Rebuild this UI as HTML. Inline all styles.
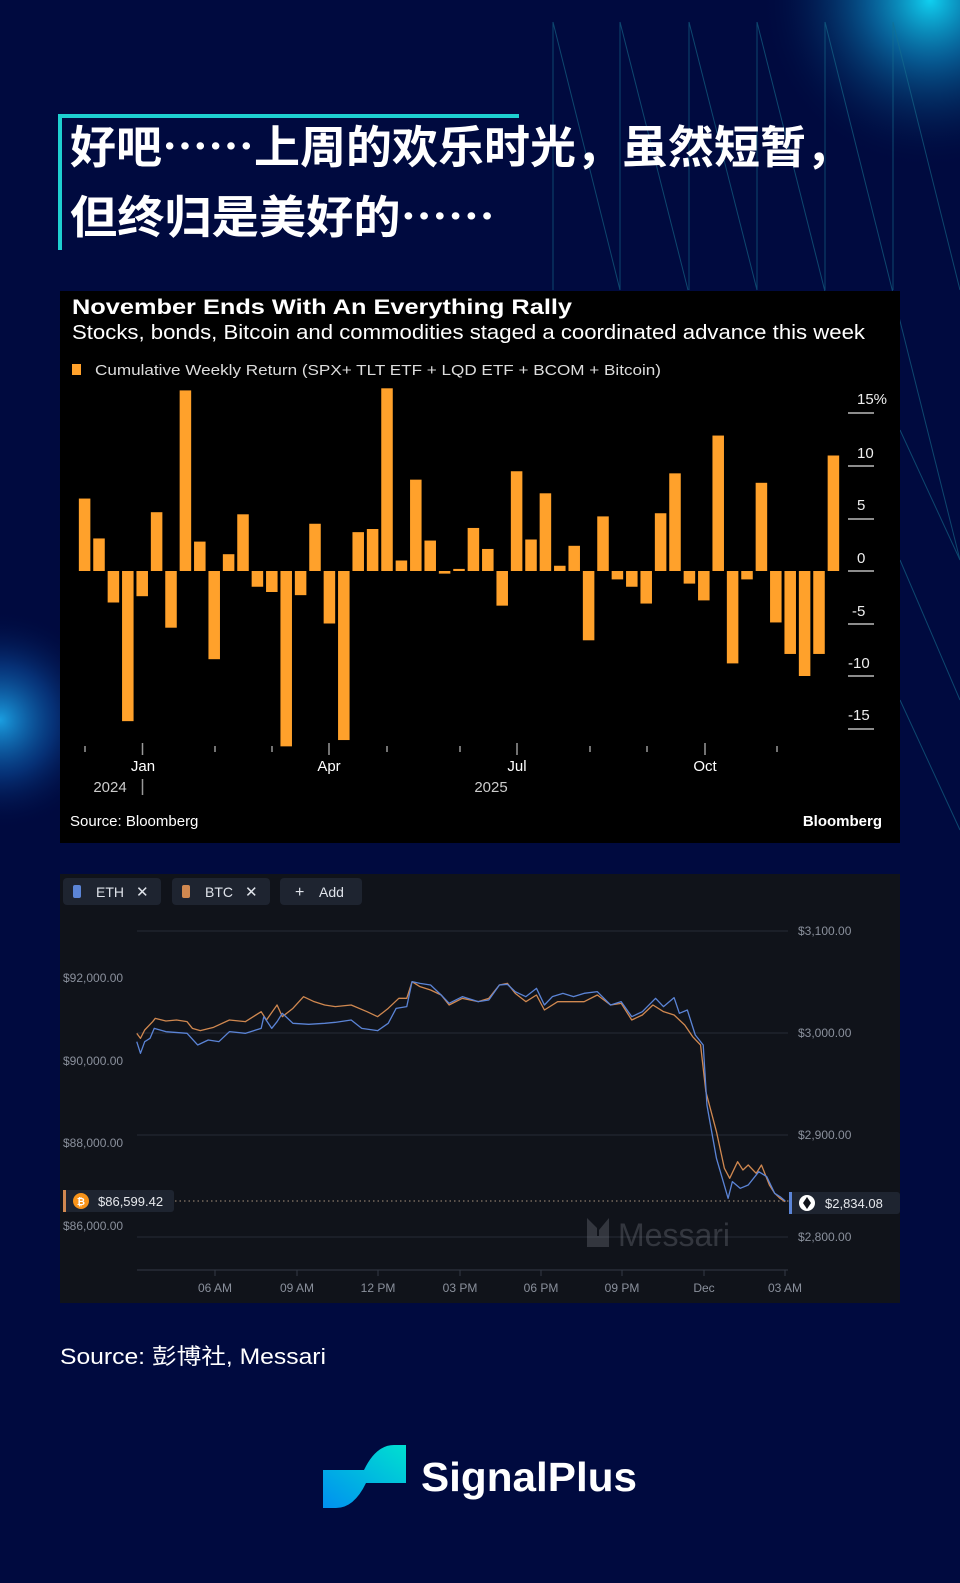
<!DOCTYPE html>
<html><head><meta charset="utf-8"><style>
html,body{margin:0;padding:0;background:#000a3f;}
svg{display:block}
</style></head><body>
<svg width="960" height="1583" viewBox="0 0 960 1583" xmlns="http://www.w3.org/2000/svg">
<defs>
<radialGradient id="g1" cx="930" cy="0" r="170" gradientUnits="userSpaceOnUse">
<stop offset="0" stop-color="#10d0f0"/><stop offset="0.35" stop-color="#0a7fb8" stop-opacity="0.7"/><stop offset="1" stop-color="#000a3f" stop-opacity="0"/></radialGradient>
<radialGradient id="g2" cx="0" cy="720" r="110" gradientUnits="userSpaceOnUse">
<stop offset="0" stop-color="#1a9ee0"/><stop offset="0.5" stop-color="#0a4a9a" stop-opacity="0.6"/><stop offset="1" stop-color="#000a3f" stop-opacity="0"/></radialGradient>
<linearGradient id="lg" x1="0" y1="1" x2="1" y2="0"><stop offset="0" stop-color="#0090f0"/><stop offset="1" stop-color="#00e0d0"/></linearGradient>
</defs>
<rect width="960" height="1583" fill="#000a3f"/>
<rect width="960" height="1583" fill="url(#g1)"/>
<rect width="960" height="1583" fill="url(#g2)"/>
<g stroke="#16708f" stroke-width="1" opacity="0.6" fill="none">
<line x1="553" y1="22" x2="553" y2="290"/><line x1="620" y1="22" x2="620" y2="290"/><line x1="689" y1="22" x2="689" y2="290"/><line x1="757" y1="22" x2="757" y2="290"/><line x1="825" y1="22" x2="825" y2="290"/><line x1="893" y1="22" x2="893" y2="290"/>
<line x1="553" y1="22" x2="620" y2="290"/><line x1="620" y1="22" x2="688" y2="290"/><line x1="689" y1="22" x2="757" y2="290"/><line x1="757" y1="22" x2="870" y2="470"/><line x1="825" y1="22" x2="960" y2="560"/><line x1="893" y1="22" x2="960" y2="290"/>
<line x1="900" y1="430" x2="960" y2="560"/><line x1="900" y1="560" x2="960" y2="700"/><line x1="900" y1="700" x2="960" y2="830"/>
</g>
<rect x="58" y="114" width="461" height="4" fill="#1ed0d0"/>
<rect x="58" y="114" width="4" height="136" fill="#1ed0d0"/>
<g font-family="'Noto Sans CJK SC','Liberation Sans',sans-serif" font-weight="bold" font-size="45" fill="#fff">
<text x="70" y="163" textLength="782" lengthAdjust="spacingAndGlyphs">好吧……上周的欢乐时光，虽然短暂，</text>
<text x="70" y="233" textLength="425" lengthAdjust="spacingAndGlyphs">但终归是美好的……</text>
</g>
<rect x="60" y="291" width="840" height="552" fill="#000"/>
<g font-family="'Liberation Sans',sans-serif" fill="#fff">
<text x="72" y="314" font-size="21" font-weight="bold" textLength="500" lengthAdjust="spacingAndGlyphs">November Ends With An Everything Rally</text>
<text x="72" y="339" font-size="20" textLength="793" lengthAdjust="spacingAndGlyphs">Stocks, bonds, Bitcoin and commodities staged a coordinated advance this week</text>
<rect x="72" y="364" width="9" height="11" fill="#ffa12b"/>
<text x="95" y="375" font-size="15" fill="#ddd" textLength="566" lengthAdjust="spacingAndGlyphs">Cumulative Weekly Return (SPX+ TLT ETF + LQD ETF + BCOM + Bitcoin)</text>
</g>
<g stroke="#bbb" stroke-width="1.5">
<line x1="848" y1="413" x2="874" y2="413"/><line x1="848" y1="466" x2="874" y2="466"/><line x1="848" y1="519" x2="874" y2="519"/><line x1="848" y1="571" x2="874" y2="571"/><line x1="848" y1="624" x2="874" y2="624"/><line x1="848" y1="676" x2="874" y2="676"/><line x1="848" y1="729" x2="874" y2="729"/>
</g>
<g font-family="'Liberation Sans',sans-serif" font-size="15" fill="#eee">
<text x="857" y="404">15%</text><text x="857" y="458">10</text><text x="857" y="510">5</text><text x="857" y="563">0</text><text x="852" y="616">-5</text><text x="848" y="668">-10</text><text x="848" y="720">-15</text>
</g>
<g transform="translate(78.85,571) scale(14.4,-10.5)" fill="#ffa12b">
<rect x="0" y="0" width="0.8" height="6.9"/>
<rect x="1" y="0" width="0.8" height="3.1"/>
<rect x="2" y="-3.0" width="0.8" height="3.0"/>
<rect x="3" y="-14.3" width="0.8" height="14.3"/>
<rect x="4" y="-2.4" width="0.8" height="2.4"/>
<rect x="5" y="0" width="0.8" height="5.6"/>
<rect x="6" y="-5.4" width="0.8" height="5.4"/>
<rect x="7" y="0" width="0.8" height="17.2"/>
<rect x="8" y="0" width="0.8" height="2.8"/>
<rect x="9" y="-8.4" width="0.8" height="8.4"/>
<rect x="10" y="0" width="0.8" height="1.6"/>
<rect x="11" y="0" width="0.8" height="5.4"/>
<rect x="12" y="-1.5" width="0.8" height="1.5"/>
<rect x="13" y="-2.0" width="0.8" height="2.0"/>
<rect x="14" y="-16.7" width="0.8" height="16.7"/>
<rect x="15" y="-2.3" width="0.8" height="2.3"/>
<rect x="16" y="0" width="0.8" height="4.5"/>
<rect x="17" y="-5.0" width="0.8" height="5.0"/>
<rect x="18" y="-16.1" width="0.8" height="16.1"/>
<rect x="19" y="0" width="0.8" height="3.7"/>
<rect x="20" y="0" width="0.8" height="4.0"/>
<rect x="21" y="0" width="0.8" height="17.4"/>
<rect x="22" y="0" width="0.8" height="1.0"/>
<rect x="23" y="0" width="0.8" height="8.7"/>
<rect x="24" y="0" width="0.8" height="2.9"/>
<rect x="25" y="-0.25" width="0.8" height="0.25"/>
<rect x="26" y="0" width="0.8" height="0.2"/>
<rect x="27" y="0" width="0.8" height="4.1"/>
<rect x="28" y="0" width="0.8" height="2.1"/>
<rect x="29" y="-3.3" width="0.8" height="3.3"/>
<rect x="30" y="0" width="0.8" height="9.5"/>
<rect x="31" y="0" width="0.8" height="3.0"/>
<rect x="32" y="0" width="0.8" height="7.4"/>
<rect x="33" y="0" width="0.8" height="0.5"/>
<rect x="34" y="0" width="0.8" height="2.4"/>
<rect x="35" y="-6.6" width="0.8" height="6.6"/>
<rect x="36" y="0" width="0.8" height="5.2"/>
<rect x="37" y="-0.8" width="0.8" height="0.8"/>
<rect x="38" y="-1.5" width="0.8" height="1.5"/>
<rect x="39" y="-3.1" width="0.8" height="3.1"/>
<rect x="40" y="0" width="0.8" height="5.5"/>
<rect x="41" y="0" width="0.8" height="9.3"/>
<rect x="42" y="-1.2" width="0.8" height="1.2"/>
<rect x="43" y="-2.8" width="0.8" height="2.8"/>
<rect x="44" y="0" width="0.8" height="12.9"/>
<rect x="45" y="-8.8" width="0.8" height="8.8"/>
<rect x="46" y="-0.8" width="0.8" height="0.8"/>
<rect x="47" y="0" width="0.8" height="8.4"/>
<rect x="48" y="-4.9" width="0.8" height="4.9"/>
<rect x="49" y="-7.9" width="0.8" height="7.9"/>
<rect x="50" y="-10.0" width="0.8" height="10.0"/>
<rect x="51" y="-7.9" width="0.8" height="7.9"/>
<rect x="52" y="0" width="0.8" height="11.0"/>
</g>
<g stroke="#999" stroke-width="1.5">
<line x1="85" y1="746" x2="85" y2="752"/><line x1="142.5" y1="743" x2="142.5" y2="755"/><line x1="215" y1="746" x2="215" y2="752"/><line x1="272" y1="746" x2="272" y2="752"/><line x1="329" y1="743" x2="329" y2="755"/><line x1="387" y1="746" x2="387" y2="752"/><line x1="460" y1="746" x2="460" y2="752"/><line x1="517" y1="743" x2="517" y2="755"/><line x1="590" y1="746" x2="590" y2="752"/><line x1="647" y1="746" x2="647" y2="752"/><line x1="705" y1="743" x2="705" y2="755"/><line x1="777" y1="746" x2="777" y2="752"/>
<line x1="142.5" y1="779" x2="142.5" y2="795"/>
</g>
<g font-family="'Liberation Sans',sans-serif" font-size="15" fill="#fff" text-anchor="middle">
<text x="143" y="771">Jan</text><text x="329" y="771">Apr</text><text x="517" y="771">Jul</text><text x="705" y="771">Oct</text>
<text x="110" y="792" fill="#ccc">2024</text><text x="491" y="792" fill="#ccc">2025</text>
</g>
<g font-family="'Liberation Sans',sans-serif" font-size="15" fill="#fff">
<text x="70" y="826">Source: Bloomberg</text>
<text x="882" y="826" text-anchor="end" font-weight="bold">Bloomberg</text>
</g>
<rect x="60" y="874" width="840" height="429" fill="#10131a"/>
<g font-family="'Liberation Sans',sans-serif" font-size="14" fill="#dfe3ea">
<rect x="63" y="878" width="98" height="27" rx="4" fill="#1e2430"/>
<rect x="73" y="885" width="8" height="13" rx="2" fill="#5b84d6"/>
<text x="96" y="897">ETH</text><text x="136" y="897" font-size="15">✕</text>
<rect x="172" y="878" width="98" height="27" rx="4" fill="#1e2430"/>
<rect x="182" y="885" width="8" height="13" rx="2" fill="#d08850"/>
<text x="205" y="897">BTC</text><text x="245" y="897" font-size="15">✕</text>
<rect x="280" y="878" width="82" height="27" rx="4" fill="#1e2430"/>
<text x="295" y="897" font-size="16">+</text><text x="319" y="897">Add</text>
</g>
<g stroke="#262b35" stroke-width="1">
<line x1="137" y1="931" x2="788" y2="931"/><line x1="137" y1="1033" x2="788" y2="1033"/><line x1="137" y1="1135" x2="788" y2="1135"/><line x1="137" y1="1237" x2="788" y2="1237"/>
<line x1="137" y1="1270" x2="788" y2="1270" stroke="#333945"/>
</g>
<g stroke="#333945" stroke-width="1">
<line x1="215" y1="1270" x2="215" y2="1276"/><line x1="297" y1="1270" x2="297" y2="1276"/><line x1="378" y1="1270" x2="378" y2="1276"/><line x1="460" y1="1270" x2="460" y2="1276"/><line x1="541" y1="1270" x2="541" y2="1276"/><line x1="622" y1="1270" x2="622" y2="1276"/><line x1="704" y1="1270" x2="704" y2="1276"/><line x1="785" y1="1270" x2="785" y2="1276"/>
</g>
<g font-family="'Liberation Sans',sans-serif" font-size="12" fill="#8a909c">
<text x="63" y="982">$92,000.00</text><text x="63" y="1065">$90,000.00</text><text x="63" y="1147">$88,000.00</text><text x="63" y="1230">$86,000.00</text>
<text x="798" y="935">$3,100.00</text><text x="798" y="1037">$3,000.00</text><text x="798" y="1139">$2,900.00</text><text x="798" y="1241">$2,800.00</text>
<g text-anchor="middle"><text x="215" y="1292">06 AM</text><text x="297" y="1292">09 AM</text><text x="378" y="1292">12 PM</text><text x="460" y="1292">03 PM</text><text x="541" y="1292">06 PM</text><text x="622" y="1292">09 PM</text><text x="704" y="1292">Dec</text><text x="785" y="1292">03 AM</text></g>
</g>
<g opacity="0.25" fill="#9aa0aa">
<polygon points="587,1218 597,1228 597,1247 587,1247"/><polygon points="599,1230 609,1218 609,1247 599,1247"/><polygon points="596,1236 600,1236 600,1247 596,1247"/>
<text x="618" y="1246" font-family="'Liberation Sans',sans-serif" font-size="32">Messari</text>
</g>
<line x1="175" y1="1201" x2="790" y2="1201" stroke="#8a7a6a" stroke-width="1.2" stroke-dasharray="1.5,3"/>
<g transform="translate(60,865) scale(0.5294,0.33333)" fill="none" stroke-width="1.3" stroke-linejoin="round">
<polyline vector-effect="non-scaling-stroke" stroke="#d08850" points="145,505 152,520 160,495 175,470 180,460 200,468 220,465 240,470 250,490 265,497 290,487 320,465 350,470 365,455 380,440 390,465 410,420 420,455 440,430 460,395 480,410 500,420 520,425 550,420 580,440 600,455 620,430 640,400 655,400 665,350 680,365 700,375 720,390 735,420 760,400 790,410 810,400 830,360 845,355 860,385 880,410 900,390 915,435 940,410 970,410 990,410 1015,390 1040,420 1060,415 1080,465 1100,450 1120,420 1140,440 1160,450 1180,480 1195,515 1210,540 1220,680 1240,800 1255,910 1265,940 1280,890 1290,915 1300,900 1315,925 1325,900 1340,960 1350,985 1360,1000 1370,1010"/>
<polyline vector-effect="non-scaling-stroke" stroke="#5b84d6" points="145,530 152,565 160,530 170,520 178,490 200,500 240,505 260,540 280,525 300,530 320,500 350,505 380,490 385,455 400,490 410,470 420,445 440,475 470,478 500,475 520,472 550,465 570,490 600,497 620,475 635,430 655,425 665,350 680,355 700,360 720,390 735,415 760,395 790,410 810,405 830,360 845,358 860,380 880,395 900,370 915,420 930,395 950,385 970,395 990,385 1015,380 1040,420 1060,410 1080,455 1100,440 1125,400 1140,425 1160,398 1170,445 1185,435 1200,510 1215,540 1222,720 1240,880 1262,1000 1270,950 1285,970 1300,960 1320,920 1335,935 1350,985 1360,995 1370,1008"/>
</g>
<rect x="63" y="1190" width="111" height="22" rx="3" fill="#1e2430"/>
<rect x="63" y="1190" width="3" height="22" fill="#d08850"/>
<circle cx="81" cy="1201" r="8" fill="#f7931a"/>
<text x="81" y="1205" font-family="'Liberation Sans',sans-serif" font-size="10" font-weight="bold" fill="#fff" text-anchor="middle">₿</text>
<text x="98" y="1206" font-family="'Liberation Sans',sans-serif" font-size="13" fill="#e6e8ec">$86,599.42</text>
<rect x="789" y="1192" width="111" height="22" rx="3" fill="#1e2430"/>
<rect x="789" y="1192" width="3" height="22" fill="#5b84d6"/>
<circle cx="807" cy="1203" r="8" fill="#fff"/>
<polygon points="807,1197 811,1203 807,1209 803,1203" fill="#10131a"/>
<text x="825" y="1208" font-family="'Liberation Sans',sans-serif" font-size="13" fill="#e6e8ec">$2,834.08</text>
<text x="60" y="1364" font-family="'Liberation Sans','Noto Sans CJK SC',sans-serif" font-size="22" fill="#fff" textLength="266" lengthAdjust="spacingAndGlyphs">Source: 彭博社, Messari</text>
<path d="M323,1470 L364,1470 Q376,1445 394,1445 L406,1445 L406,1483 L366,1483 Q354,1508 336,1508 L323,1508 Z" fill="url(#lg)"/>
<text x="421" y="1491" font-family="'Liberation Sans',sans-serif" font-size="41" font-weight="bold" fill="#fff" textLength="216" lengthAdjust="spacingAndGlyphs">SignalPlus</text>
</svg>
</body></html>
